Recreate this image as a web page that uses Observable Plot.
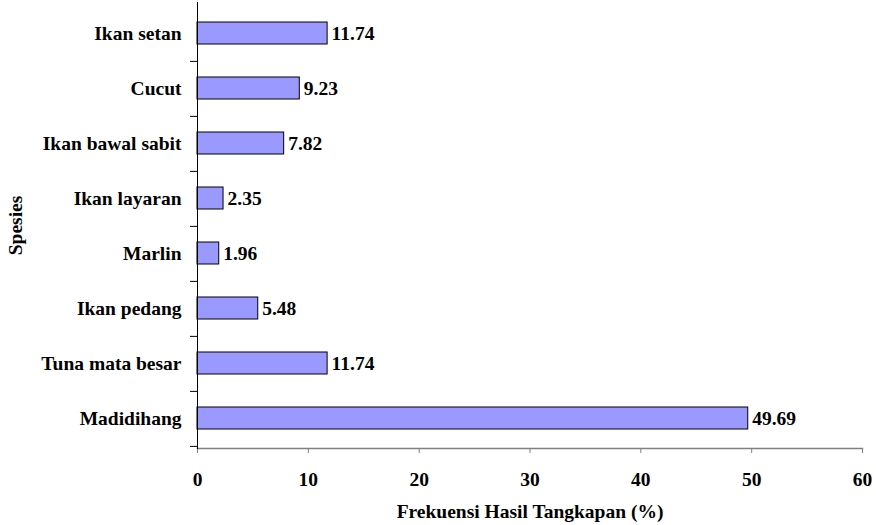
<!DOCTYPE html>
<html>
<head>
<meta charset="utf-8">
<script src="https://cdn.jsdelivr.net/npm/d3@7"></script>
<script src="https://cdn.jsdelivr.net/npm/@observablehq/plot@0.6"></script>
<style>
  html, body { margin: 0; padding: 0; background: #fff; }
</style>
</head>
<body>
<div id="chart"></div>
<script>
const categories = ["Ikan setan", "Cucut", "Ikan bawal sabit", "Ikan layaran", "Marlin", "Ikan pedang", "Tuna mata besar", "Madidihang"];
const values = [11.74, 9.23, 7.82, 2.35, 1.96, 5.48, 11.74, 49.69];
const xTicks = [0, 10, 20, 30, 40, 50, 60];
const xLabel = "Frekuensi Hasil Tangkapan (%)";
const yLabel = "Spesies";

const data = categories.map((c, i) => ({species: c, value: values[i]}));

const W = 876, H = 525, mT = 2, mB = 77, mL = 197, mR = 14;
const step = (H - mT - mB) / categories.length;
const FS = 19.5;

const chart = Plot.plot({
  width: W,
  height: H,
  marginTop: mT,
  marginBottom: mB,
  marginLeft: mL,
  marginRight: mR,
  style: {fontFamily: "'Liberation Serif', 'Times New Roman', serif", fontWeight: "bold", fontSize: FS + "px", color: "#000", background: "#fff"},
  x: {domain: [0, 60]},
  y: {domain: categories, paddingInner: 0.6, paddingOuter: 0.3},
  marks: [
    Plot.barX(data, {x: "value", y: "species", fill: "#9999FF", stroke: "#000", strokeWidth: 1}),
    Plot.text(data, {x: "value", y: "species", text: d => d.value.toFixed(2), textAnchor: "start", dx: 4, fill: "#000", fontSize: FS, fontWeight: "bold"}),
    Plot.frame({anchor: "bottom", stroke: "#808080", strokeWidth: 1.5}),
    Plot.axisX({ticks: xTicks, tickSize: 5, tickPadding: 19, stroke: "#808080", label: xLabel, labelAnchor: "center", labelArrow: "none", labelOffset: 69, fill: "#000", fontSize: FS}),
    Plot.axisY({tickSize: 0, tickPadding: 16, label: yLabel, labelAnchor: "center", labelArrow: "none", labelOffset: 189, fill: "#000", fontSize: FS}),
    Plot.axisY({tickSize: 7, tickFormat: () => "", dy: step / 2, stroke: "#000", label: null}),
    Plot.frame({anchor: "left", stroke: "#000", strokeWidth: 1})
  ]
});
document.getElementById("chart").appendChild(chart);
</script>
</body>
</html>
